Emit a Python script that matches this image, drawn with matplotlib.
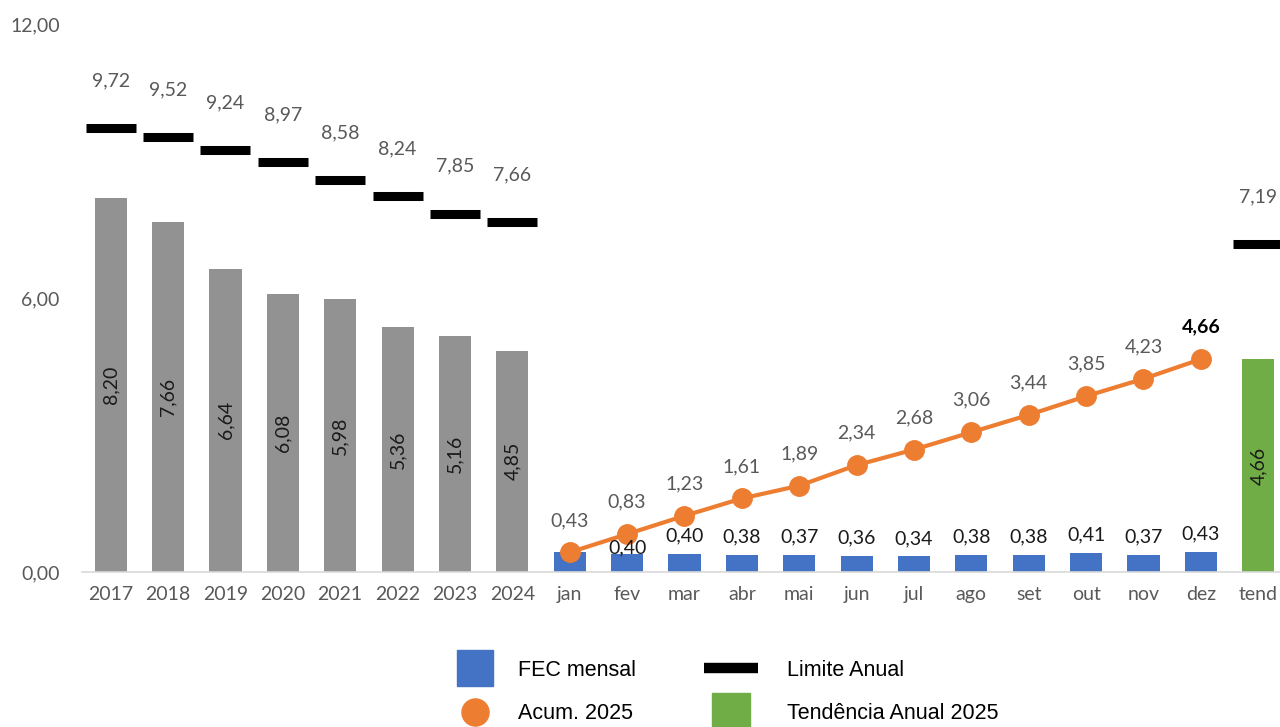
import numpy as np
import matplotlib.pyplot as plt
from matplotlib.lines import Line2D

plt.rcParams['font.family'] = ['Lato', 'DejaVu Sans']

years = ['2017', '2018', '2019', '2020', '2021', '2022', '2023', '2024']
months = ['jan', 'fev', 'mar', 'abr', 'mai', 'jun', 'jul', 'ago', 'set', 'out', 'nov', 'dez']
labels = years + months + ['tend']

fec_anual = [8.20, 7.66, 6.64, 6.08, 5.98, 5.36, 5.16, 4.85]
limite_anos = [9.72, 9.52, 9.24, 8.97, 8.58, 8.24, 7.85, 7.66]
limite_tend = 7.19
fec_mensal = [0.43, 0.40, 0.40, 0.38, 0.37, 0.36, 0.34, 0.38, 0.38, 0.41, 0.37, 0.43]
acumulado = [0.43, 0.83, 1.23, 1.61, 1.89, 2.34, 2.68, 3.06, 3.44, 3.85, 4.23, 4.66]
tendencia = 4.66

GRAY = '#929292'
BLUE = '#4472c4'
ORANGE = '#ed7d31'
GREEN = '#70ad47'
TXT = '#595959'
DARK = '#1a1a1a'
FS = 14


def fmt(v):
    return f'{v:.2f}'.replace('.', ',')


fig = plt.figure(figsize=(12.8, 7.27), dpi=100)
ax = fig.add_axes([82 / 1280, 155 / 727, 1198 / 1280, 548 / 727])

x = np.arange(len(labels))
x_years = x[:8]
x_months = x[8:20]
x_tend = x[20]
w = 0.56

# historical annual FEC
ax.bar(x_years, fec_anual, width=w, color=GRAY, zorder=2)
for xi, v in zip(x_years, fec_anual):
    ax.text(xi, v / 2, fmt(v), rotation=90, ha='center', va='center',
            fontsize=FS, color=DARK, zorder=5)

# monthly FEC (jan label hidden behind the accumulated one)
ax.bar(x_months, fec_mensal, width=w, color=BLUE, zorder=2)
for i, (xi, v) in enumerate(zip(x_months, fec_mensal)):
    if months[i] == 'jan':
        continue
    dy = 4 if months[i] == 'fev' else 13
    ax.annotate(fmt(v), (xi, v), xytext=(0, dy), textcoords='offset points',
                ha='center', va='center', fontsize=FS, color=DARK, zorder=6)

# annual trend
ax.bar([x_tend], [tendencia], width=w, color=GREEN, zorder=2)
ax.text(x_tend, tendencia / 2, fmt(tendencia), rotation=90, ha='center',
        va='center', fontsize=FS, color=DARK, zorder=5)

# annual limits
lim_x = list(x_years) + [x_tend]
lim_v = limite_anos + [limite_tend]
ax.scatter(lim_x, lim_v, marker='_', s=1300, linewidths=6.5, color='black', zorder=3)
for xi, v in zip(lim_x, lim_v):
    ax.annotate(fmt(v), (xi, v), xytext=(0, 34), textcoords='offset points',
                ha='center', va='center', fontsize=FS, color=TXT)

# accumulated 2025
ax.plot(x_months, acumulado, color=ORANGE, lw=3, marker='o', markersize=14,
        zorder=4)
for i, (xi, v) in enumerate(zip(x_months, acumulado)):
    last = i == len(acumulado) - 1
    ax.annotate(fmt(v), (xi, v), xytext=(0, 23), textcoords='offset points',
                ha='center', va='center', fontsize=FS,
                color='black' if last else TXT,
                fontweight='bold' if last else 'normal', zorder=6)

ax.set_xlim(-0.5, 20.38)
ax.set_ylim(0, 12)
ax.set_yticks([0, 6, 12])
ax.set_yticklabels([fmt(t) for t in [0, 6, 12]])
ax.set_xticks(x)
ax.set_xticklabels(labels)
ax.tick_params(axis='both', length=0, labelsize=FS, labelcolor=TXT)
ax.tick_params(axis='y', pad=16)
ax.tick_params(axis='x', pad=10)
for s in ['top', 'right', 'left']:
    ax.spines[s].set_visible(False)
ax.spines['bottom'].set_color('#d9d9d9')
ax.spines['bottom'].set_linewidth(1.2)

# legend, one block per column
leg_font = {'family': ['Liberation Sans'], 'size': 15.5}
col1 = [Line2D([], [], ls='none', marker='s', markersize=26, color=BLUE),
        Line2D([], [], ls='none', marker='o', markersize=19.5, color=ORANGE)]
col2 = [Line2D([], [], lw=7.5, color='black', solid_capstyle='butt'),
        Line2D([], [], ls='none', marker='s', markersize=27, color=GREEN)]
leg1 = fig.legend(col1, ['FEC mensal', 'Acum. 2025'], loc='center left',
                  bbox_to_anchor=(455 / 1280, 1 - 692 / 727), frameon=False,
                  prop=leg_font, handlelength=1.86, handletextpad=1.07,
                  labelspacing=1.05, borderpad=0, borderaxespad=0)
fig.legend(col2, ['Limite Anual', 'Tendência Anual 2025'], loc='center left',
           bbox_to_anchor=(704 / 1280, 1 - 692 / 727), frameon=False,
           prop=leg_font, handlelength=2.51, handletextpad=1.35,
           labelspacing=1.05, borderpad=0, borderaxespad=0)

fig.savefig('out.png', dpi=100)
